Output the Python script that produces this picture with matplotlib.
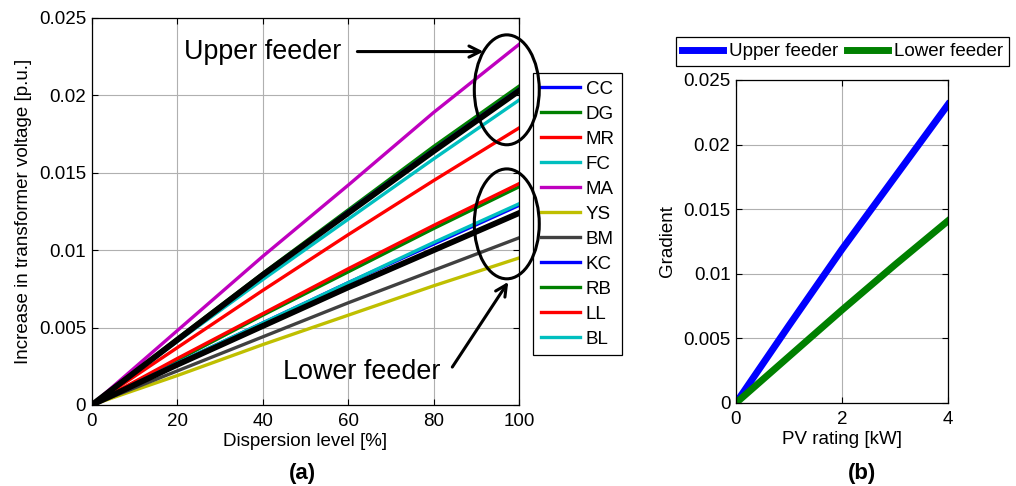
import matplotlib.pyplot as plt
from matplotlib.patches import Ellipse

plt.rcParams["font.family"] = ["Liberation Sans", "DejaVu Sans"]
plt.rcParams["font.size"] = 13.5

# panel (a): voltage increase vs dispersion level
disp = [0, 20, 40, 60, 80, 100]
series_a = {
    "CC": [0, 0.0042, 0.0084, 0.0125, 0.0165, 0.0204],
    "DG": [0, 0.0043, 0.0085, 0.0126, 0.0167, 0.0206],
    "MR": [0, 0.0037, 0.0074, 0.0110, 0.0145, 0.0179],
    "FC": [0, 0.0041, 0.0081, 0.0120, 0.0159, 0.0197],
    "MA": [0, 0.0048, 0.0096, 0.0142, 0.0189, 0.0233],
    "YS": [0, 0.0019, 0.0039, 0.0058, 0.0077, 0.0095],
    "BM": [0, 0.0022, 0.0044, 0.0066, 0.0087, 0.0108],
    "KC": [0, 0.0027, 0.0053, 0.0079, 0.0104, 0.0129],
    "RB": [0, 0.0029, 0.0058, 0.0086, 0.0114, 0.0141],
    "LL": [0, 0.0030, 0.0059, 0.0088, 0.0116, 0.0143],
    "BL": [0, 0.0027, 0.0053, 0.0079, 0.0105, 0.0130],
}
upper_black = [0, 0.0042, 0.0084, 0.0124, 0.0164, 0.0203]
lower_black = [0, 0.0026, 0.0051, 0.0076, 0.0100, 0.0124]

# panel (b): gradient vs PV rating
pv = [0, 1, 2, 3, 4]
grad_upper = [0, 0.0060, 0.0119, 0.0175, 0.0231]
grad_lower = [0, 0.0036, 0.0072, 0.0107, 0.0141]

yticks = [0, 0.005, 0.01, 0.015, 0.02, 0.025]
ytick_labels = ["0", "0.005", "0.01", "0.015", "0.02", "0.025"]

colors = {
    "CC": "#0000ff", "DG": "#008000", "MR": "#ff0000", "FC": "#00bfbf",
    "MA": "#bf00bf", "YS": "#bfbf00", "BM": "#404040", "KC": "#0000ff",
    "RB": "#008000", "LL": "#ff0000", "BL": "#00bfbf",
}


def matlab_axes(ax):
    ax.grid(True, color="#b0b0b0", linewidth=0.8)
    ax.tick_params(direction="in", top=True, right=True, length=4,
                   labelsize=13.5)
    ax.tick_params(axis="x", pad=6)
    ax.tick_params(axis="y", pad=4)
    for s in ax.spines.values():
        s.set_linewidth(0.9)
    ax.set_axisbelow(True)


fig = plt.figure(figsize=(10.16, 4.86), dpi=100)

ax1 = fig.add_axes([0.0903, 0.1667, 0.4207, 0.7963])
draw_order = ["MR", "MA", "DG", "CC", "FC", "YS", "BM", "RB", "LL", "KC", "BL"]
hmap = {}
for name in draw_order:
    hmap[name], = ax1.plot(disp, series_a[name], color=colors[name],
                           linewidth=2.4)
ax1.plot(disp, upper_black, color="black", linewidth=4.2)
ax1.plot(disp, lower_black, color="black", linewidth=4.2)
ax1.set_xlim(0, 100)
ax1.set_ylim(0, 0.025)
ax1.set_xticks([0, 20, 40, 60, 80, 100])
ax1.set_yticks(yticks)
ax1.set_yticklabels(ytick_labels)
matlab_axes(ax1)
ax1.set_xlabel("Dispersion level [%]", labelpad=2)
ax1.set_ylabel("Increase in transformer voltage [p.u.]", labelpad=5)

leg_names = list(series_a.keys())
leg1 = ax1.legend([hmap[n] for n in leg_names], leg_names,
                  loc="upper left", bbox_to_anchor=(1.033, 0.857),
                  handlelength=2.1, handletextpad=0.3, labelspacing=0.42,
                  borderpad=0.4, borderaxespad=0, frameon=True,
                  fancybox=False, edgecolor="black", framealpha=1)
leg1.get_frame().set_linewidth(0.9)

for cy in (0.02036, 0.0117):
    ax1.add_patch(Ellipse((97.1, cy), 15.2, 0.0071, fill=False,
                          edgecolor="black", linewidth=2.2, clip_on=False,
                          zorder=6))
ax1.text(21.7, 0.02283, "Upper feeder", fontsize=19.4, ha="left",
         va="center")
ax1.annotate("", xy=(92.3, 0.02283), xytext=(61.5, 0.02283),
             arrowprops=dict(arrowstyle="->", color="black", lw=2.2,
                             mutation_scale=20))
ax1.text(44.7, 0.00215, "Lower feeder", fontsize=19.4, ha="left",
         va="center")
ax1.annotate("", xy=(97.8, 0.0081), xytext=(84.0, 0.0023),
             arrowprops=dict(arrowstyle="->", color="black", lw=2.2,
                             mutation_scale=20))
fig.text(0.298, 0.025, "(a)", fontsize=16, fontweight="bold", ha="center",
         va="center")

ax2 = fig.add_axes([0.7244, 0.1708, 0.2087, 0.6646])
ax2.plot(pv, grad_upper, color="#0000ff", linewidth=5, label="Upper feeder")
ax2.plot(pv, grad_lower, color="#008000", linewidth=5, label="Lower feeder")
ax2.set_xlim(0, 4)
ax2.set_ylim(0, 0.025)
ax2.set_xticks([0, 2, 4])
ax2.set_yticks(yticks)
ax2.set_yticklabels(ytick_labels)
matlab_axes(ax2)
ax2.set_xlabel("PV rating [kW]", labelpad=2)
ax2.set_ylabel("Gradient", labelpad=5)
leg2 = ax2.legend(loc="center", bbox_to_anchor=(0.8292, 0.894),
                  bbox_transform=fig.transFigure, ncol=2,
                  handlelength=2.2, handletextpad=0.3, columnspacing=0.5,
                  borderpad=0.3, frameon=True, fancybox=False,
                  edgecolor="black", framealpha=1)
leg2.get_frame().set_linewidth(0.9)
fig.text(0.848, 0.025, "(b)", fontsize=16, fontweight="bold", ha="center",
         va="center")

fig.savefig("out.png", dpi=100)
